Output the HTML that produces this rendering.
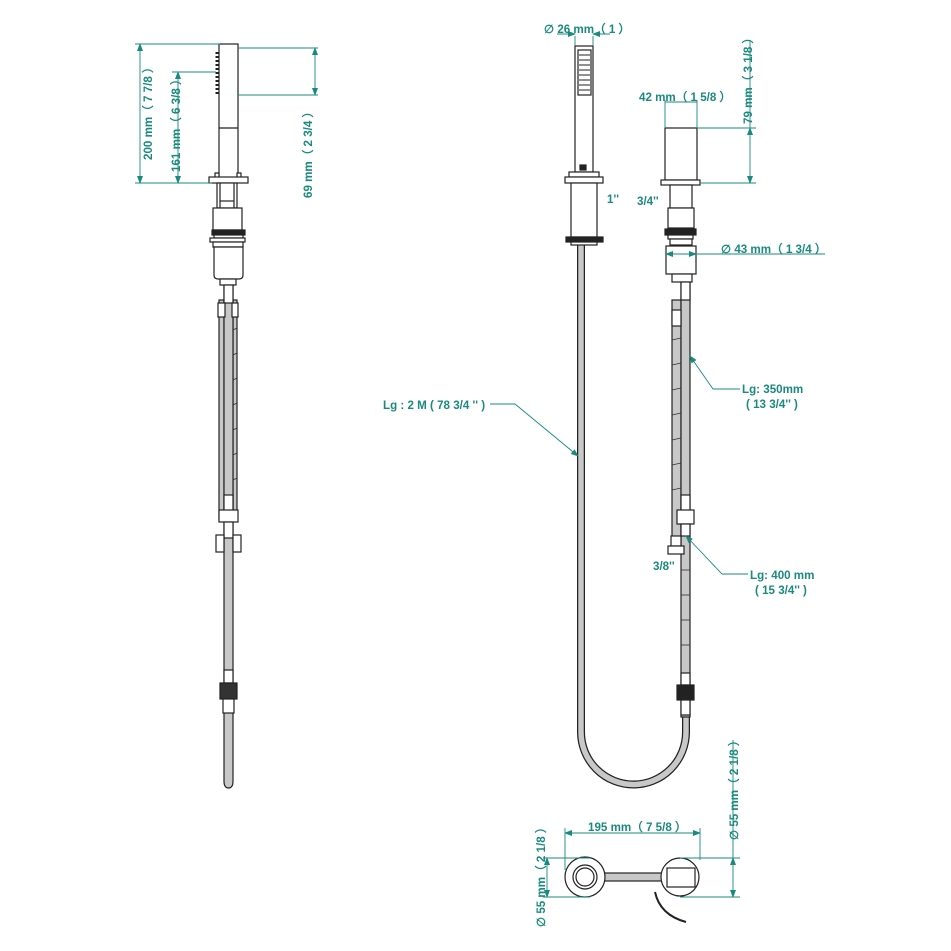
<!DOCTYPE html>
<html><head><meta charset="utf-8"><style>
html,body{margin:0;padding:0;background:#fff}
svg{display:block}
text{font-family:"Liberation Sans",Arial,sans-serif;font-weight:bold;font-size:11.6px;fill:#1a8a7e}
</style></head><body>
<svg width="951" height="951" viewBox="0 0 951 951" xmlns="http://www.w3.org/2000/svg">
<defs>
<marker id="a" markerWidth="8" markerHeight="6" refX="7" refY="3" orient="auto-start-reverse" markerUnits="userSpaceOnUse"><path d="M0,0 L8,3 L0,6z" fill="#1a8a7e"/></marker>
</defs>
<rect width="951" height="951" fill="#fff"/>

<!-- ===== LEFT ASSEMBLY ===== -->
<g stroke="#222" stroke-width="1.2" fill="#fff">
<rect x="219" y="300" width="5" height="220" fill="#c8c8c8"/>
<rect x="233" y="300" width="4" height="220" fill="#c8c8c8"/>
<path d="M224,285 L233,285 L233,781 Q233,788 228.5,788 Q224,788 224,781 Z" fill="#c8c8c8"/>
<rect x="219" y="44" width="19" height="134"/>
<line x1="219" y1="128" x2="238" y2="128"/>
<line x1="217" y1="52" x2="217" y2="96" stroke-width="3" stroke-dasharray="2,2"/>
<rect x="215" y="173" width="4" height="5"/>
<rect x="237" y="173" width="4" height="5"/>
<rect x="209" y="177" width="39" height="6"/>
<rect x="217" y="183" width="20" height="25"/>
<line x1="220" y1="183" x2="220" y2="208"/><line x1="234" y1="183" x2="234" y2="208"/>
<line x1="220" y1="201" x2="234" y2="201"/>
<rect x="213" y="208" width="29" height="22"/>
<rect x="212" y="230" width="33" height="5" fill="#222"/>
<rect x="214" y="235" width="29" height="3"/>
<rect x="210" y="238" width="35" height="4"/>
<rect x="213" y="242" width="30" height="5"/>
<path d="M214,247 L243,247 L243,275 Q243,279 239,279 L218,279 Q214,279 214,275 Z"/>
<rect x="220" y="279" width="16" height="6"/>
<rect x="224" y="285" width="9" height="18"/>
<rect x="218" y="303" width="7" height="14"/><rect x="232" y="303" width="6" height="14"/>
<rect x="224" y="495" width="9" height="16"/>
<rect x="219" y="510" width="19" height="12"/>
<rect x="224" y="522" width="9" height="16"/>
<rect x="216" y="535" width="8" height="17"/><rect x="233" y="535" width="8" height="17"/>
<rect x="224" y="670" width="9" height="13"/>
<rect x="220" y="683" width="17" height="16" fill="#333"/>
<rect x="223" y="699" width="11" height="14"/>
</g>
<g stroke="#333" stroke-width="0.8">
<line x1="233" y1="330" x2="237" y2="328"/><line x1="233" y1="355" x2="237" y2="353"/><line x1="233" y1="380" x2="237" y2="378"/><line x1="233" y1="405" x2="237" y2="403"/><line x1="233" y1="430" x2="237" y2="428"/><line x1="233" y1="455" x2="237" y2="453"/><line x1="233" y1="480" x2="237" y2="478"/>
</g>

<!-- ===== CENTER HANDSHOWER ===== -->
<g stroke="#222" stroke-width="1.2" fill="#fff">
<path d="M581,243 L581,732 A52.5,52.5 0 0 0 686,732 L686,715" fill="none" stroke="#222" stroke-width="8"/>
<path d="M581,243 L581,732 A52.5,52.5 0 0 0 686,732 L686,715" fill="none" stroke="#c8c8c8" stroke-width="5.5"/>
<rect x="575" y="46" width="18" height="126"/>
<rect x="578" y="50" width="13" height="45" fill="#fff"/>
<g stroke-width="1">
<line x1="579" y1="55" x2="590" y2="55"/><line x1="579" y1="60" x2="590" y2="60"/><line x1="579" y1="65" x2="590" y2="65"/><line x1="579" y1="70" x2="590" y2="70"/><line x1="579" y1="75" x2="590" y2="75"/><line x1="579" y1="80" x2="590" y2="80"/><line x1="579" y1="85" x2="590" y2="85"/><line x1="579" y1="90" x2="590" y2="90"/>
</g>
<rect x="580" y="165" width="6" height="5" fill="#222"/>
<rect x="569" y="172" width="30" height="5"/>
<rect x="565" y="177" width="38" height="6"/>
<rect x="571" y="183" width="26" height="54"/>
<rect x="566" y="237" width="37" height="5" fill="#222"/>
<rect x="571" y="242" width="26" height="3"/>
</g>

<!-- ===== RIGHT ASSEMBLY ===== -->
<g stroke="#222" stroke-width="1.2" fill="#fff">
<rect x="672" y="300" width="9" height="240" fill="#c8c8c8"/>
<rect x="681" y="282" width="9" height="435" fill="#c8c8c8"/>
<rect x="665" y="128" width="32" height="52"/>
<rect x="661" y="180" width="39" height="5"/>
<rect x="670" y="185" width="22" height="23"/>
<rect x="668" y="208" width="26" height="20"/>
<rect x="665" y="229" width="31" height="6" fill="#222"/>
<rect x="668" y="235" width="25" height="4"/>
<rect x="670" y="239" width="22" height="6"/>
<rect x="666" y="246" width="30" height="28"/>
<rect x="672" y="274" width="20" height="8"/>
<rect x="681" y="282" width="9" height="18"/>
<rect x="672" y="310" width="9" height="16"/>
<rect x="681" y="495" width="9" height="16"/>
<rect x="677" y="510" width="17" height="14"/>
<rect x="681" y="524" width="9" height="12"/>
<rect x="671" y="536" width="10" height="10"/>
<rect x="668" y="546" width="16" height="8"/>
<rect x="681" y="673" width="9" height="12"/>
<rect x="677" y="685" width="17" height="15" fill="#222"/>
<rect x="681" y="700" width="9" height="15"/>
</g>
<g stroke="#333" stroke-width="0.8">
<line x1="672" y1="340" x2="681" y2="338"/><line x1="672" y1="365" x2="681" y2="363"/><line x1="672" y1="390" x2="681" y2="388"/><line x1="672" y1="415" x2="681" y2="413"/><line x1="672" y1="440" x2="681" y2="438"/><line x1="672" y1="465" x2="681" y2="463"/><line x1="672" y1="490" x2="681" y2="488"/>
<line x1="681" y1="570" x2="690" y2="570"/><line x1="681" y1="595" x2="690" y2="595"/><line x1="681" y1="620" x2="690" y2="620"/><line x1="681" y1="645" x2="690" y2="645"/>
</g>

<!-- ===== BOTTOM PLAN ===== -->
<g stroke="#222" stroke-width="1.2" fill="#fff">
<rect x="603" y="873" width="60" height="8" fill="#c8c8c8"/>
<circle cx="585" cy="877" r="20"/>
<circle cx="585" cy="877" r="12"/>
<circle cx="585" cy="877" r="9"/>
<circle cx="680" cy="877" r="19"/>
<rect x="667" y="868" width="28" height="19"/>
<path d="M655,892 Q660,915 686,922" fill="none" stroke-width="2"/>
</g>

<!-- ===== DIMENSIONS ===== -->
<g stroke="#1a8a7e" stroke-width="0.9" fill="none">
<line x1="135" y1="44" x2="220" y2="44"/><line x1="135" y1="183" x2="212" y2="183"/>
<line x1="140" y1="44" x2="140" y2="183" marker-start="url(#a)" marker-end="url(#a)"/>
<line x1="172" y1="72" x2="216" y2="72"/>
<line x1="178" y1="72" x2="178" y2="183" marker-start="url(#a)" marker-end="url(#a)"/>
<line x1="238" y1="48" x2="318" y2="48"/><line x1="238" y1="95" x2="318" y2="95"/>
<line x1="315" y1="48" x2="315" y2="95" marker-start="url(#a)" marker-end="url(#a)"/>
<line x1="575" y1="36" x2="575" y2="46"/><line x1="593" y1="36" x2="593" y2="46"/>
<line x1="557" y1="34" x2="575" y2="34" marker-end="url(#a)"/>
<line x1="610" y1="34" x2="593" y2="34" marker-end="url(#a)"/>
<line x1="665" y1="100" x2="665" y2="128"/><line x1="697" y1="100" x2="697" y2="128"/>
<line x1="665" y1="102" x2="697" y2="102"/>
<line x1="697" y1="128" x2="756" y2="128"/><line x1="700" y1="183" x2="756" y2="183"/>
<line x1="750" y1="128" x2="750" y2="183" marker-start="url(#a)" marker-end="url(#a)"/>
<line x1="666" y1="254" x2="825" y2="254"/>
<line x1="666" y1="254" x2="696" y2="254" marker-start="url(#a)" marker-end="url(#a)"/>
<polyline points="740,389 713,389 690,356" marker-end="url(#a)"/>
<polyline points="748,574 722,574 686,536" marker-end="url(#a)"/>
<polyline points="490,404 515,404 578,456" marker-end="url(#a)"/>
<line x1="565" y1="828" x2="565" y2="870"/><line x1="700" y1="828" x2="700" y2="860"/>
<line x1="565" y1="833" x2="700" y2="833" marker-start="url(#a)" marker-end="url(#a)"/>
<line x1="543" y1="858" x2="590" y2="858"/><line x1="543" y1="897" x2="590" y2="897"/>
<line x1="547" y1="858" x2="547" y2="897" marker-start="url(#a)" marker-end="url(#a)"/>
<line x1="680" y1="858" x2="740" y2="858"/><line x1="680" y1="897" x2="740" y2="897"/>
<line x1="733" y1="740" x2="733" y2="858"/>
<line x1="733" y1="858" x2="733" y2="897" marker-start="url(#a)" marker-end="url(#a)"/>
<line x1="750" y1="40" x2="750" y2="128"/>
</g>

<text transform="translate(152,160) rotate(-90)">200 mm（ 7 7/8 ）</text>
<text transform="translate(180,172) rotate(-90)">161 mm（ 6 3/8 ）</text>
<text transform="translate(312,198) rotate(-90)">69 mm（ 2 3/4 ）</text>
<text x="544" y="33">∅  26 mm（ 1 ）</text>
<text x="639" y="101">42 mm（ 1 5/8 ）</text>
<text transform="translate(752,124) rotate(-90)">79 mm（ 3 1/8 ）</text>
<text x="607" y="203">1''</text>
<text x="637" y="205">3/4''</text>
<text x="721" y="253">∅  43 mm（ 1 3/4 ）</text>
<text x="742" y="393">Lg: 350mm</text>
<text x="746" y="408">( 13 3/4'' )</text>
<text x="750" y="579">Lg: 400 mm</text>
<text x="755" y="594">( 15 3/4'' )</text>
<text x="653" y="570">3/8''</text>
<text x="383" y="409">Lg : 2 M ( 78 3/4 '' )</text>
<text x="588" y="831">195 mm（ 7 5/8 ）</text>
<text transform="translate(545,927) rotate(-90)">∅  55 mm（ 2 1/8 ）</text>
<text transform="translate(738,840) rotate(-90)">∅  55 mm（ 2 1/8 ）</text>
</svg>
</body></html>
